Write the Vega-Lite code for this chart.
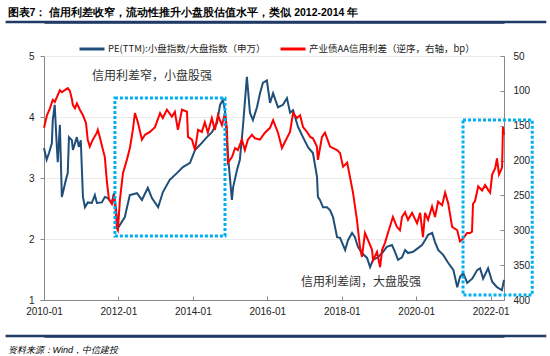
{
  "$schema": "https://vega.github.io/schema/vega-lite/v6.json",
  "width": 460,
  "height": 244,
  "autosize": {"type": "none"},
  "padding": {"left": 44, "top": 56, "right": 46, "bottom": 56},
  "background": "white",
  "config": {
    "view": {"stroke": null},
    "axis": {"labelFont": "Liberation Sans", "labelFontSize": 10, "labelColor": "#222", "domainColor": "#888", "tickColor": "#888"}
  },
  "datasets": {
    "pe": [
      {"date": "2010-01-01", "pe": 3.49}, {"date": "2010-01-27", "pe": 3.30}, {"date": "2010-02-19", "pe": 3.41},
      {"date": "2010-03-19", "pe": 3.57}, {"date": "2010-03-28", "pe": 3.95}, {"date": "2010-04-16", "pe": 4.20},
      {"date": "2010-05-07", "pe": 3.51}, {"date": "2010-05-16", "pe": 3.26}, {"date": "2010-06-06", "pe": 3.87},
      {"date": "2010-06-25", "pe": 2.69}, {"date": "2010-07-04", "pe": 2.75}, {"date": "2010-08-04", "pe": 2.97},
      {"date": "2010-08-22", "pe": 3.08}, {"date": "2010-09-03", "pe": 3.67}, {"date": "2010-10-01", "pe": 3.62},
      {"date": "2010-10-12", "pe": 3.46}, {"date": "2010-11-19", "pe": 3.67}, {"date": "2010-12-09", "pe": 3.51},
      {"date": "2010-12-28", "pe": 3.62}, {"date": "2011-01-18", "pe": 2.69}, {"date": "2011-02-07", "pe": 2.52},
      {"date": "2011-03-07", "pe": 2.60}, {"date": "2011-04-15", "pe": 2.59}, {"date": "2011-05-15", "pe": 2.72},
      {"date": "2011-06-04", "pe": 2.59}, {"date": "2011-07-22", "pe": 2.60}, {"date": "2011-08-21", "pe": 2.69},
      {"date": "2011-09-19", "pe": 2.67}, {"date": "2011-10-28", "pe": 2.59}, {"date": "2011-11-18", "pe": 2.75},
      {"date": "2011-12-07", "pe": 2.52}, {"date": "2011-12-28", "pe": 2.18}, {"date": "2012-03-04", "pe": 2.36},
      {"date": "2012-04-22", "pe": 2.72}, {"date": "2012-07-01", "pe": 2.75}, {"date": "2012-08-19", "pe": 2.64},
      {"date": "2012-10-16", "pe": 2.84}, {"date": "2012-11-25", "pe": 2.67}, {"date": "2013-01-25", "pe": 2.52},
      {"date": "2013-03-13", "pe": 2.77}, {"date": "2013-05-19", "pe": 2.97}, {"date": "2013-07-28", "pe": 3.08},
      {"date": "2013-09-25", "pe": 3.18}, {"date": "2013-12-04", "pe": 3.25}, {"date": "2014-01-22", "pe": 3.46},
      {"date": "2014-03-10", "pe": 3.54}, {"date": "2014-05-19", "pe": 3.67}, {"date": "2014-07-07", "pe": 3.75},
      {"date": "2014-08-25", "pe": 3.90}, {"date": "2014-09-25", "pe": 4.20}, {"date": "2014-10-22", "pe": 4.28},
      {"date": "2014-11-12", "pe": 4.11}, {"date": "2014-12-12", "pe": 3.35}, {"date": "2015-01-19", "pe": 2.64},
      {"date": "2015-01-31", "pe": 2.85}, {"date": "2015-03-10", "pe": 3.13}, {"date": "2015-04-07", "pe": 3.30},
      {"date": "2015-05-07", "pe": 3.84}, {"date": "2015-06-15", "pe": 4.66}, {"date": "2015-07-15", "pe": 4.07},
      {"date": "2015-08-13", "pe": 3.95}, {"date": "2015-09-22", "pe": 4.16}, {"date": "2015-10-22", "pe": 4.39},
      {"date": "2015-11-19", "pe": 4.56}, {"date": "2015-12-28", "pe": 4.60}, {"date": "2016-01-28", "pe": 4.23},
      {"date": "2016-02-27", "pe": 4.39}, {"date": "2016-04-15", "pe": 4.16}, {"date": "2016-06-03", "pe": 4.20},
      {"date": "2016-07-12", "pe": 4.31}, {"date": "2016-08-12", "pe": 4.07}, {"date": "2016-09-10", "pe": 4.11},
      {"date": "2016-10-28", "pe": 3.84}, {"date": "2016-12-16", "pe": 3.67}, {"date": "2017-02-05", "pe": 3.50},
      {"date": "2017-03-24", "pe": 3.41}, {"date": "2017-05-03", "pe": 3.02}, {"date": "2017-05-12", "pe": 2.69},
      {"date": "2017-06-01", "pe": 2.64}, {"date": "2017-07-01", "pe": 2.52}, {"date": "2017-08-09", "pe": 2.52},
      {"date": "2017-09-09", "pe": 2.47}, {"date": "2017-10-07", "pe": 2.36}, {"date": "2017-11-16", "pe": 2.03},
      {"date": "2017-12-15", "pe": 2.02}, {"date": "2018-02-03", "pe": 1.82}, {"date": "2018-03-03", "pe": 1.98},
      {"date": "2018-04-12", "pe": 2.10}, {"date": "2018-05-10", "pe": 2.03}, {"date": "2018-06-09", "pe": 1.87},
      {"date": "2018-07-18", "pe": 1.77}, {"date": "2018-09-06", "pe": 1.69}, {"date": "2018-10-06", "pe": 1.54},
      {"date": "2018-11-04", "pe": 1.66}, {"date": "2018-12-22", "pe": 1.70}, {"date": "2019-02-01", "pe": 1.77},
      {"date": "2019-03-19", "pe": 1.87}, {"date": "2019-05-09", "pe": 1.90}, {"date": "2019-06-07", "pe": 1.79},
      {"date": "2019-07-07", "pe": 1.66}, {"date": "2019-08-15", "pe": 1.70}, {"date": "2019-09-15", "pe": 1.82},
      {"date": "2019-10-13", "pe": 1.77}, {"date": "2019-12-01", "pe": 1.79}, {"date": "2020-01-19", "pe": 1.85},
      {"date": "2020-02-28", "pe": 1.90}, {"date": "2020-03-28", "pe": 1.98}, {"date": "2020-04-27", "pe": 2.07},
      {"date": "2020-06-06", "pe": 2.10}, {"date": "2020-07-04", "pe": 1.95}, {"date": "2020-08-04", "pe": 1.82},
      {"date": "2020-09-22", "pe": 1.74}, {"date": "2020-11-10", "pe": 1.61}, {"date": "2021-01-01", "pe": 1.49},
      {"date": "2021-02-07", "pe": 1.21}, {"date": "2021-03-07", "pe": 1.38}, {"date": "2021-04-07", "pe": 1.44},
      {"date": "2021-05-16", "pe": 1.28}, {"date": "2021-07-04", "pe": 1.35}, {"date": "2021-08-22", "pe": 1.49},
      {"date": "2021-09-19", "pe": 1.52}, {"date": "2021-10-19", "pe": 1.35}, {"date": "2021-12-07", "pe": 1.52},
      {"date": "2022-01-16", "pe": 1.30}, {"date": "2022-03-04", "pe": 1.21}, {"date": "2022-04-22", "pe": 1.16},
      {"date": "2022-05-12", "pe": 1.33}
    ],
    "spread": [
      {"date": "2010-01-01", "bp": 153}, {"date": "2010-01-30", "bp": 135}, {"date": "2010-02-28", "bp": 125},
      {"date": "2010-03-28", "bp": 113}, {"date": "2010-04-17", "bp": 116}, {"date": "2010-05-16", "bp": 106},
      {"date": "2010-06-05", "bp": 99}, {"date": "2010-06-25", "bp": 102}, {"date": "2010-07-24", "bp": 99},
      {"date": "2010-08-23", "bp": 96}, {"date": "2010-09-12", "bp": 100}, {"date": "2010-10-02", "bp": 112},
      {"date": "2010-10-11", "bp": 120}, {"date": "2010-11-01", "bp": 125}, {"date": "2010-11-20", "bp": 118},
      {"date": "2010-12-19", "bp": 127}, {"date": "2011-01-18", "bp": 135}, {"date": "2011-02-17", "bp": 146},
      {"date": "2011-03-06", "bp": 170}, {"date": "2011-03-26", "bp": 180}, {"date": "2011-04-25", "bp": 170},
      {"date": "2011-06-04", "bp": 160}, {"date": "2011-06-13", "bp": 156}, {"date": "2011-07-02", "bp": 166},
      {"date": "2011-07-22", "bp": 178}, {"date": "2011-08-21", "bp": 195}, {"date": "2011-09-10", "bp": 230},
      {"date": "2011-09-30", "bp": 255}, {"date": "2011-10-29", "bp": 262}, {"date": "2011-11-18", "bp": 250},
      {"date": "2011-12-08", "bp": 275}, {"date": "2011-12-17", "bp": 297}, {"date": "2011-12-27", "bp": 300},
      {"date": "2012-01-16", "bp": 256}, {"date": "2012-02-15", "bp": 218}, {"date": "2012-03-24", "bp": 199},
      {"date": "2012-04-23", "bp": 182}, {"date": "2012-05-22", "bp": 156}, {"date": "2012-06-11", "bp": 132},
      {"date": "2012-07-10", "bp": 145}, {"date": "2012-08-19", "bp": 170}, {"date": "2012-09-18", "bp": 163},
      {"date": "2012-11-06", "bp": 159}, {"date": "2012-12-25", "bp": 152}, {"date": "2013-02-13", "bp": 132},
      {"date": "2013-03-12", "bp": 139}, {"date": "2013-04-21", "bp": 127}, {"date": "2013-06-09", "bp": 137},
      {"date": "2013-07-08", "bp": 130}, {"date": "2013-08-07", "bp": 156}, {"date": "2013-09-16", "bp": 127},
      {"date": "2013-11-04", "bp": 130}, {"date": "2013-11-14", "bp": 166}, {"date": "2013-12-23", "bp": 170},
      {"date": "2014-01-22", "bp": 185}, {"date": "2014-02-21", "bp": 156}, {"date": "2014-03-30", "bp": 159},
      {"date": "2014-04-28", "bp": 145}, {"date": "2014-05-28", "bp": 160}, {"date": "2014-07-06", "bp": 139},
      {"date": "2014-08-05", "bp": 156}, {"date": "2014-09-04", "bp": 135}, {"date": "2014-10-13", "bp": 149},
      {"date": "2014-11-12", "bp": 132}, {"date": "2014-12-01", "bp": 153}, {"date": "2014-12-11", "bp": 203},
      {"date": "2015-01-20", "bp": 195}, {"date": "2015-02-19", "bp": 182}, {"date": "2015-03-18", "bp": 185},
      {"date": "2015-04-27", "bp": 170}, {"date": "2015-05-26", "bp": 185}, {"date": "2015-06-25", "bp": 170},
      {"date": "2015-08-03", "bp": 163}, {"date": "2015-09-02", "bp": 168}, {"date": "2015-10-21", "bp": 170},
      {"date": "2015-12-09", "bp": 160}, {"date": "2016-01-28", "bp": 153}, {"date": "2016-02-27", "bp": 142},
      {"date": "2016-04-15", "bp": 160}, {"date": "2016-05-24", "bp": 182}, {"date": "2016-06-23", "bp": 173},
      {"date": "2016-08-11", "bp": 159}, {"date": "2016-09-10", "bp": 132}, {"date": "2016-10-19", "bp": 139},
      {"date": "2016-11-18", "bp": 135}, {"date": "2016-12-17", "bp": 152}, {"date": "2017-01-26", "bp": 159},
      {"date": "2017-02-25", "bp": 166}, {"date": "2017-03-24", "bp": 168}, {"date": "2017-05-02", "bp": 180},
      {"date": "2017-05-12", "bp": 199}, {"date": "2017-06-21", "bp": 166}, {"date": "2017-07-20", "bp": 160},
      {"date": "2017-09-08", "bp": 180}, {"date": "2017-10-07", "bp": 182}, {"date": "2017-11-16", "bp": 185},
      {"date": "2017-12-15", "bp": 189}, {"date": "2018-01-14", "bp": 209}, {"date": "2018-02-23", "bp": 203},
      {"date": "2018-03-22", "bp": 223}, {"date": "2018-04-21", "bp": 246}, {"date": "2018-05-30", "bp": 285},
      {"date": "2018-06-28", "bp": 324}, {"date": "2018-07-18", "bp": 338}, {"date": "2018-08-17", "bp": 304},
      {"date": "2018-09-16", "bp": 314}, {"date": "2018-10-25", "bp": 328}, {"date": "2018-11-04", "bp": 343},
      {"date": "2018-12-13", "bp": 331}, {"date": "2019-01-12", "bp": 353}, {"date": "2019-02-01", "bp": 328},
      {"date": "2019-03-01", "bp": 318}, {"date": "2019-03-30", "bp": 304}, {"date": "2019-05-18", "bp": 281},
      {"date": "2019-06-26", "bp": 295}, {"date": "2019-07-26", "bp": 300}, {"date": "2019-08-15", "bp": 281},
      {"date": "2019-09-14", "bp": 274}, {"date": "2019-10-13", "bp": 285}, {"date": "2019-11-22", "bp": 275},
      {"date": "2020-01-10", "bp": 290}, {"date": "2020-02-09", "bp": 275}, {"date": "2020-03-08", "bp": 310},
      {"date": "2020-03-28", "bp": 275}, {"date": "2020-04-27", "bp": 285}, {"date": "2020-06-05", "bp": 266},
      {"date": "2020-07-04", "bp": 281}, {"date": "2020-08-03", "bp": 259}, {"date": "2020-09-12", "bp": 264},
      {"date": "2020-10-11", "bp": 246}, {"date": "2020-11-10", "bp": 261}, {"date": "2020-12-19", "bp": 295},
      {"date": "2021-02-07", "bp": 300}, {"date": "2021-03-06", "bp": 316}, {"date": "2021-04-05", "bp": 312},
      {"date": "2021-05-14", "bp": 304}, {"date": "2021-06-13", "bp": 304}, {"date": "2021-07-02", "bp": 302},
      {"date": "2021-07-12", "bp": 262}, {"date": "2021-08-01", "bp": 258}, {"date": "2021-09-01", "bp": 237},
      {"date": "2021-10-09", "bp": 243}, {"date": "2021-11-08", "bp": 235}, {"date": "2021-12-07", "bp": 242},
      {"date": "2021-12-27", "bp": 246}, {"date": "2022-01-16", "bp": 220}, {"date": "2022-02-15", "bp": 211},
      {"date": "2022-03-04", "bp": 197}, {"date": "2022-03-24", "bp": 220}, {"date": "2022-04-23", "bp": 210},
      {"date": "2022-05-02", "bp": 152}, {"date": "2022-05-12", "bp": 163}
    ],
    "boxes": [
      {"start": "2011-11-28", "end": "2014-11-12", "top": 4.31, "bottom": 2.05},
      {"start": "2021-04-05", "end": "2023-02-13", "top": 3.95, "bottom": 1.08}
    ],
    "notes": [
      {"date": "2012-11-25", "y": 4.67, "text": "信用利差窄，小盘股强"},
      {"date": "2018-07-09", "y": 1.30, "text": "信用利差阔，大盘股强"}
    ]
  },
  "layer": [
    {
      "data": {"values": [{}]},
      "mark": {"type": "rule", "stroke": "#203A66", "strokeWidth": 2.5},
      "encoding": {
        "x": {"datum": {"year": 2008, "month": 12, "date": 20, "utc": true}, "type": "temporal",
          "scale": {"type": "utc", "domain": [{"year": 2010, "month": 1, "date": 1, "utc": true}, {"year": 2022, "month": 5, "date": 12, "utc": true}]}, "axis": null},
        "x2": {"datum": {"year": 2023, "month": 7, "date": 1, "utc": true}},
        "y": {"datum": 5.557, "type": "quantitative", "scale": {"domain": [1, 5], "nice": false, "zero": false}, "axis": null}
      }
    },
    {
      "data": {"values": [{}]},
      "mark": {"type": "rule", "stroke": "#203A66", "strokeWidth": 2.5},
      "encoding": {
        "x": {"datum": {"year": 2008, "month": 12, "date": 20, "utc": true}, "type": "temporal",
          "scale": {"type": "utc", "domain": [{"year": 2010, "month": 1, "date": 1, "utc": true}, {"year": 2022, "month": 5, "date": 12, "utc": true}]}, "axis": null},
        "x2": {"datum": {"year": 2023, "month": 7, "date": 1, "utc": true}},
        "y": {"datum": 0.41, "type": "quantitative", "scale": {"domain": [1, 5], "nice": false, "zero": false}, "axis": null}
      }
    },
    {
      "data": {"name": "pe"},
      "mark": {"type": "line", "strokeWidth": 2},
      "encoding": {
        "x": {
          "field": "date", "type": "temporal",
          "scale": {"type": "utc", "domain": [{"year": 2010, "month": 1, "date": 1, "utc": true}, {"year": 2022, "month": 5, "date": 12, "utc": true}]},
          "axis": {
            "orient": "bottom", "title": null,
            "labelExpr": "utcFormat(datum.value, '%Y-%m')",
            "values": [
              {"year": 2010, "month": 1, "date": 1, "utc": true}, {"year": 2012, "month": 1, "date": 1, "utc": true},
              {"year": 2014, "month": 1, "date": 1, "utc": true}, {"year": 2016, "month": 1, "date": 1, "utc": true},
              {"year": 2018, "month": 1, "date": 1, "utc": true}, {"year": 2020, "month": 1, "date": 1, "utc": true},
              {"year": 2022, "month": 1, "date": 1, "utc": true}
            ],
            "grid": false, "tickSize": -4, "labelPadding": 10, "labelFlush": false, "labelOverlap": false
          }
        },
        "y": {
          "field": "pe", "type": "quantitative",
          "scale": {"domain": [1, 5], "nice": false, "zero": false},
          "axis": {"orient": "left", "title": null, "values": [1, 2, 3, 4, 5], "grid": true, "gridColor": "#ebebeb", "tickSize": 4, "labelPadding": 6}
        },
        "color": {
          "datum": "PE(TTM):小盘指数/大盘指数（申万）",
          "scale": {"domain": ["PE(TTM):小盘指数/大盘指数（申万）", "产业债AA信用利差（逆序，右轴，bp）"], "range": ["#1F4E79", "#FF0000"]},
          "legend": {
            "orient": "none", "legendX": 34, "legendY": -21, "direction": "horizontal", "title": null,
            "symbolType": "stroke", "symbolSize": 625, "symbolStrokeWidth": 3, "labelFontSize": 9.5, "labelLimit": 0,
            "labelFont": "Noto Sans CJK SC", "labelColor": "#222", "labelOffset": 2, "columnPadding": 8, "padding": 0, "gridAlign": "none"
          }
        }
      }
    },
    {
      "data": {"name": "spread"},
      "mark": {"type": "line", "strokeWidth": 2},
      "encoding": {
        "x": {
          "field": "date", "type": "temporal",
          "scale": {"type": "utc", "domain": [{"year": 2010, "month": 1, "date": 1, "utc": true}, {"year": 2022, "month": 5, "date": 12, "utc": true}]},
          "axis": {
            "orient": "top", "offset": 34, "domain": true, "domainColor": "#203A66", "domainWidth": 2.5, "ticks": false, "labels": false, "grid": false,
            "title": "图表7：  信用利差收窄，流动性推升小盘股估值水平，类似 2012-2014 年",
            "titleX": -37, "titleY": -10, "titleAlign": "left", "titleBaseline": "middle", "titleAngle": 0,
            "titleFontSize": 10.5, "titleFontWeight": "bold", "titleColor": "#000"
          }
        },
        "y": {
          "field": "bp", "type": "quantitative",
          "scale": {"domain": [50, 400], "reverse": true, "nice": false, "zero": false},
          "axis": {"orient": "right", "title": null, "values": [50, 100, 150, 200, 250, 300, 350, 400], "grid": false, "tickSize": -4, "labelPadding": 13}
        },
        "color": {"datum": "产业债AA信用利差（逆序，右轴，bp）"}
      }
    },
    {
      "data": {"name": "boxes"},
      "mark": {"type": "rect", "filled": false, "stroke": "#00B0F0", "strokeWidth": 3, "strokeDash": [3, 2]},
      "encoding": {
        "x": {
          "field": "start", "type": "temporal",
          "scale": {"type": "utc", "domain": [{"year": 2010, "month": 1, "date": 1, "utc": true}, {"year": 2022, "month": 5, "date": 12, "utc": true}]},
          "axis": {
            "orient": "bottom", "offset": 36, "domain": true, "domainColor": "#203A66", "domainWidth": 2.5, "ticks": false, "labels": false, "grid": false,
            "title": "资料来源：Wind，中信建投",
            "titleX": -37, "titleY": 13, "titleAlign": "left", "titleBaseline": "middle", "titleAngle": 0,
            "titleFontSize": 9, "titleFontStyle": "italic", "titleFontWeight": "normal", "titleColor": "#000"
          }
        },
        "x2": {"field": "end"},
        "y": {"field": "top", "type": "quantitative", "scale": {"domain": [1, 5], "nice": false, "zero": false}, "axis": null},
        "y2": {"field": "bottom"}
      }
    },
    {
      "data": {"name": "notes"},
      "mark": {"type": "text", "font": "Noto Sans CJK SC", "fontSize": 12, "color": "#333"},
      "encoding": {
        "x": {
          "field": "date", "type": "temporal",
          "scale": {"type": "utc", "domain": [{"year": 2010, "month": 1, "date": 1, "utc": true}, {"year": 2022, "month": 5, "date": 12, "utc": true}]},
          "axis": null
        },
        "y": {"field": "y", "type": "quantitative", "scale": {"domain": [1, 5], "nice": false, "zero": false}, "axis": null},
        "text": {"field": "text"}
      }
    }
  ],
  "resolve": {"scale": {"y": "independent"}, "axis": {"x": "independent", "y": "independent"}}
}
